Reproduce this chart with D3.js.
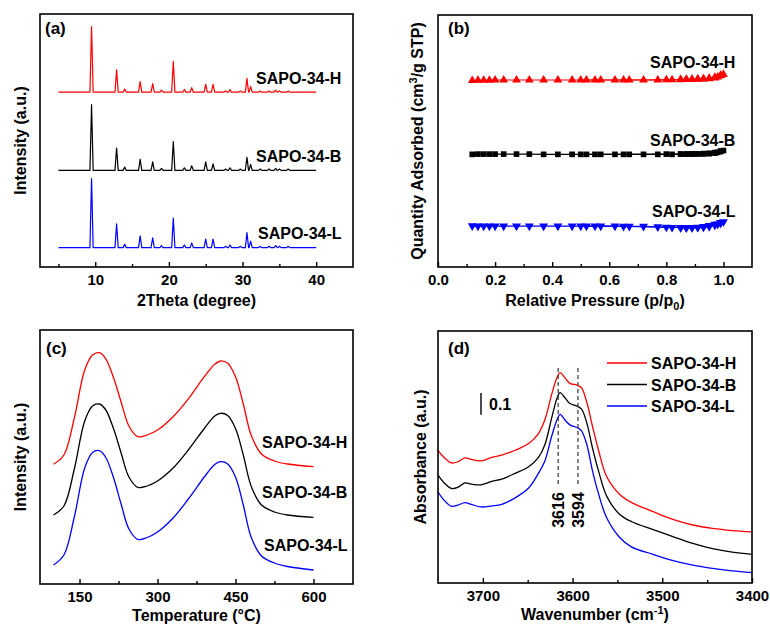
<!DOCTYPE html>
<html>
<head>
<meta charset="utf-8">
<script src="https://cdn.jsdelivr.net/npm/d3@7"></script>
<style>
body { margin: 0; background: #fff; }
</style>
</head>
<body>
<div id="chart"></div>
<script>
/*
Data
*/
const names = ["SAPO-34-H", "SAPO-34-B", "SAPO-34-L"];
const colors = ["#ff0000", "#000000", "#0000ff"];

// (a) XRD: peak positions (2theta) and peak heights per sample, plus stacked baseline
const xrdPeaks = [9.5, 12.9, 14.0, 16.1, 17.8, 19.0, 20.6, 22.1, 23.1, 25.0, 26.0, 27.7, 28.3, 29.7, 30.6, 31.1, 32.4, 33.6, 34.5, 35.0, 36.2];
const xrdH = [100, 34, 5, 16, 13, 3, 47, 4, 7, 12, 12, 2, 4, 2, 21, 9, 2, 2, 3, 2, 2];
const xrdB = [100, 34, 5, 17, 13, 3, 44, 4, 7, 13, 10, 2, 4, 2, 20, 9, 2, 2, 3, 2, 2];
const xrdL = [105, 36, 5, 18, 15, 3, 45, 4, 7, 13, 13, 2, 4, 2, 23, 10, 2, 2, 3, 2, 2];
const xrdBase = [266, 147, 29.5];
const xrdRange = [5, 40];

// (b) N2 isotherms
const pAds = [0.12, 0.14, 0.16, 0.18, 0.20, 0.23, 0.275, 0.32, 0.37, 0.42, 0.47, 0.52, 0.57, 0.62, 0.67, 0.72, 0.77, 0.82, 0.85, 0.87, 0.89, 0.91, 0.93, 0.95, 0.97, 0.98, 0.99, 1.00];
const pDes = [0.99, 0.97, 0.95, 0.93, 0.91, 0.89, 0.87, 0.85, 0.80, 0.65, 0.55, 0.50];
const qAdsH = [74.0, 74.1, 74.1, 74.1, 74.2, 74.2, 74.2, 74.2, 74.2, 74.2, 74.2, 74.2, 74.2, 74.2, 74.2, 74.2, 74.2, 74.3, 74.3, 74.4, 74.4, 74.5, 74.6, 74.7, 75.0, 75.4, 75.9, 76.4];
const qDesH = [76.0, 75.3, 74.9, 74.7, 74.6, 74.5, 74.5, 74.4, 74.3, 74.2, 74.2, 74.2];
const qAdsB = [44.7, 44.8, 44.8, 44.8, 44.8, 44.8, 44.8, 44.8, 44.7, 44.7, 44.7, 44.7, 44.7, 44.7, 44.7, 44.7, 44.7, 44.7, 44.8, 44.8, 44.8, 44.9, 44.9, 45.0, 45.2, 45.5, 45.8, 46.2];
const qDesB = [46.0, 45.4, 45.1, 45.0, 44.9, 44.9, 44.8, 44.8, 44.8, 44.7, 44.7, 44.7];
const qAdsL = [16.3, 16.2, 16.2, 16.2, 16.2, 16.2, 16.2, 16.2, 16.2, 16.2, 16.2, 16.2, 16.2, 16.2, 16.1, 16.1, 15.9, 15.7, 15.6, 15.6, 15.6, 15.7, 15.8, 16.0, 16.6, 17.0, 17.4, 17.9];
const qDesL = [17.6, 16.9, 16.4, 16.0, 15.8, 15.7, 15.6, 15.7, 15.8, 16.1, 16.2, 16.2];

// (c) NH3-TPD
const tpdT = [100, 120, 140, 160, 175, 188, 200, 215, 230, 245, 262, 280, 300, 330, 360, 390, 410, 421, 435, 450, 465, 480, 500, 525, 550, 600];
const tpdH = [119.7, 129, 166, 214, 229, 231.3, 225.7, 207, 182, 158, 147.3, 149, 154, 167.3, 185.7, 207.3, 219.7, 223, 220.7, 207.3, 180, 149, 130, 123, 120, 117.3];
const tpdB = [69, 78, 115, 163, 178, 180, 174.5, 156, 131, 107, 96.7, 98, 103, 116, 134.5, 155.5, 168, 170.7, 168.5, 155.5, 129, 98, 79, 72, 69, 66.7];
const tpdL = [19, 29, 67, 116, 131.5, 133.3, 127, 107, 80, 55, 44.7, 46.5, 52, 66, 85.5, 107, 119.5, 122.3, 120, 107, 79, 47, 28, 21, 17.5, 14];

// (d) FTIR hydroxyl region
const wn = [3750, 3744, 3735, 3728, 3720, 3713, 3702, 3690, 3679, 3664, 3649, 3638, 3631, 3623, 3617, 3614, 3608, 3603, 3595, 3590, 3584, 3578, 3571, 3562, 3548, 3534, 3511, 3489, 3466, 3444, 3422, 3400];
const irH = [0.611, 0.581, 0.553, 0.558, 0.576, 0.569, 0.562, 0.578, 0.589, 0.611, 0.642, 0.688, 0.750, 0.873, 0.949, 0.968, 0.942, 0.919, 0.911, 0.898, 0.830, 0.725, 0.610, 0.490, 0.410, 0.370, 0.330, 0.294, 0.267, 0.251, 0.241, 0.235];
const irB = [0.496, 0.465, 0.435, 0.440, 0.461, 0.455, 0.452, 0.468, 0.478, 0.505, 0.535, 0.578, 0.635, 0.765, 0.855, 0.876, 0.850, 0.826, 0.814, 0.800, 0.735, 0.625, 0.515, 0.400, 0.318, 0.282, 0.247, 0.215, 0.182, 0.158, 0.142, 0.132];
const irL = [0.419, 0.385, 0.353, 0.358, 0.370, 0.362, 0.350, 0.355, 0.362, 0.392, 0.437, 0.505, 0.560, 0.680, 0.755, 0.776, 0.748, 0.728, 0.716, 0.700, 0.635, 0.520, 0.410, 0.300, 0.212, 0.165, 0.133, 0.104, 0.082, 0.067, 0.056, 0.048];
const irMarks = [3616, 3594];
const irBar = [0.875, 0.775];

/*
Layout
*/
const FONT = "'Liberation Sans', Arial, Helvetica, sans-serif";
const width = 770;
const height = 625;
const pa = { x0: 40, x1: 353, y0: 14, y1: 267 };
const pb = { x0: 438, x1: 752, y0: 15, y1: 267 };
const pc = { x0: 40, x1: 353, y0: 330, y1: 584 };
const pd = { x0: 438, x1: 752, y0: 331, y1: 583 };

const svg = d3.select("#chart")
	.append("svg")
	.attr("width", width)
	.attr("height", height)
	.style("font-family", FONT);
svg.append("rect")
	.attr("width", width)
	.attr("height", height)
	.attr("fill", "#fff");

/*
Helpers
*/
function frame(p) {
	svg.append("rect")
		.attr("x", p.x0)
		.attr("y", p.y0)
		.attr("width", p.x1 - p.x0)
		.attr("height", p.y1 - p.y0)
		.attr("fill", "none")
		.attr("stroke", "#000")
		.attr("stroke-width", 1.6);
}

function bottomAxis(p, x, major, minor, fmt) {
	const g = svg.append("g").attr("transform", `translate(0,${p.y1})`);
	g.append("g")
		.call(d3.axisBottom(x).tickValues(major).tickSize(-5).tickPadding(7).tickFormat(fmt))
		.call((a) => a.select(".domain").remove())
		.call((a) => a.selectAll("line").attr("stroke-width", 1.4))
		.call((a) => a.selectAll("text")
			.attr("font-family", FONT)
			.attr("font-size", 15)
			.attr("font-weight", "bold")
			.attr("fill", "#000"));
	g.append("g")
		.call(d3.axisBottom(x).tickValues(minor).tickSize(-3).tickFormat(""))
		.call((a) => a.select(".domain").remove())
		.call((a) => a.selectAll("line").attr("stroke-width", 1.4));
}

function text(x, y, str, size, opts) {
	const t = svg.append("text")
		.attr("x", x)
		.attr("y", y)
		.attr("font-size", size)
		.attr("font-weight", "bold")
		.attr("fill", "#000")
		.text(str);
	if (opts && opts.anchor) t.attr("text-anchor", opts.anchor);
	return t;
}

function yTitle(x, p, parts) {
	const t = svg.append("text")
		.attr("transform", `translate(${x},${(p.y0 + p.y1) / 2}) rotate(-90)`)
		.attr("text-anchor", "middle")
		.attr("font-size", 16)
		.attr("font-weight", "bold");
	parts.forEach((s) => {
		const span = t.append("tspan").text(s.t);
		if (s.sup) span.attr("font-size", 11).attr("dy", -6);
		if (s.back) span.attr("dy", 6);
	});
}

function xTitle(p, y, parts) {
	const t = svg.append("text")
		.attr("x", (p.x0 + p.x1) / 2)
		.attr("y", y)
		.attr("text-anchor", "middle")
		.attr("font-size", 16)
		.attr("font-weight", "bold");
	parts.forEach((s) => {
		const span = t.append("tspan").text(s.t);
		if (s.sup) span.attr("font-size", 11).attr("dy", -6);
		if (s.sub) span.attr("font-size", 11).attr("dy", 4);
		if (s.back) span.attr("dy", s.back);
	});
}

/*
(a) XRD
*/
const xA = d3.scaleLinear().domain([2.5, 45]).range([pa.x0, pa.x1]);
const yA = d3.scaleLinear().domain([0, 385]).range([pa.y1, pa.y0]);
const xrdLine = d3.line().x((d) => xA(d[0])).y((d) => yA(d[1]));
function xrdPoints(heights, base) {
	const pts = [[xrdRange[0], base]];
	xrdPeaks.forEach((p, i) => {
		pts.push([p - 0.22, base], [p, base + heights[i]], [p + 0.22, base]);
	});
	pts.push([xrdRange[1], base]);
	return pts;
}
[xrdH, xrdB, xrdL].forEach((h, i) => {
	svg.append("path")
		.attr("d", xrdLine(xrdPoints(h, xrdBase[i])))
		.attr("fill", "none")
		.attr("stroke", colors[i])
		.attr("stroke-width", 1.2)
		.attr("stroke-linejoin", "round");
});
frame(pa);
bottomAxis(pa, xA, [10, 20, 30, 40], [5, 15, 25, 35], d3.format("d"));
text(45, 34, "(a)", 17);
text(256, 84, names[0], 16);
text(256, 161.5, names[1], 16);
text(258, 239, names[2], 16);
xTitle(pa, 306, [{ t: "2Theta (degree)" }]);
yTitle(26, pa, [{ t: "Intensity (a.u.)" }]);

/*
(b) N2 isotherms
*/
const xB = d3.scaleLinear().domain([0, 1.1]).range([pb.x0, pb.x1]);
const yB = d3.scaleLinear().domain([0, 100]).range([pb.y1, pb.y0]);
const isoLine = d3.line().x((d) => xB(d[0])).y((d) => yB(d[1]));
const isoSets = [[qAdsH, qDesH], [qAdsB, qDesB], [qAdsL, qDesL]];
const symbols = [
	d3.symbol().type(d3.symbolTriangle).size(34),
	d3.symbol().type(d3.symbolSquare).size(32),
	d3.symbol().type(d3.symbolTriangle).size(34)
];
isoSets.forEach((set, i) => {
	const ads = pAds.map((p, j) => [p, set[0][j]]);
	const des = pDes.map((p, j) => [p, set[1][j]]);
	[ads, des].forEach((pts) => {
		svg.append("path")
			.attr("d", isoLine(pts))
			.attr("fill", "none")
			.attr("stroke", colors[i])
			.attr("stroke-width", 1.2);
	});
	svg.append("g")
		.selectAll("path")
		.data(ads.concat(des))
		.enter()
		.append("path")
		.attr("d", symbols[i])
		.attr("transform", (d) => `translate(${xB(d[0])},${yB(d[1])})${i == 2 ? " rotate(180)" : ""}`)
		.attr("fill", colors[i]);
});
frame(pb);
bottomAxis(pb, xB, [0, 0.2, 0.4, 0.6, 0.8, 1.0], [0.1, 0.3, 0.5, 0.7, 0.9], d3.format(".1f"));
text(448, 34, "(b)", 17);
text(650, 68, names[0], 16);
text(650, 145.5, names[1], 16);
text(652, 217, names[2], 16);
xTitle(pb, 306, [{ t: "Relative Pressure (p/p" }, { t: "0", sub: true }, { t: ")", back: -4 }]);
yTitle(423, pb, [{ t: "Quantity Adsorbed (cm" }, { t: "3", sup: true }, { t: "/g STP)", back: true }]);

/*
(c) NH3-TPD
*/
const xC = d3.scaleLinear().domain([74, 676]).range([pc.x0, pc.x1]);
const yC = d3.scaleLinear().domain([0, 254]).range([pc.y1, pc.y0]);
const tpdLine = d3.line()
	.x((d) => xC(d[0]))
	.y((d) => yC(d[1]))
	.curve(d3.curveCatmullRom.alpha(0.5));
[tpdH, tpdB, tpdL].forEach((vals, i) => {
	svg.append("path")
		.attr("d", tpdLine(tpdT.map((t, j) => [t, vals[j]])))
		.attr("fill", "none")
		.attr("stroke", colors[i])
		.attr("stroke-width", 1.3);
});
frame(pc);
bottomAxis(pc, xC, [150, 300, 450, 600], [225, 375, 525], d3.format("d"));
text(46, 354, "(c)", 17);
text(262, 448, names[0], 16);
text(262, 498, names[1], 16);
text(264, 550.5, names[2], 16);
xTitle(pc, 621, [{ t: "Temperature (\u00b0C)" }]);
yTitle(26, pc, [{ t: "Intensity (a.u.)" }]);

/*
(d) FTIR
*/
const xD = d3.scaleLinear().domain([3750, 3400]).range([pd.x0, pd.x1]);
const yD = d3.scaleLinear().domain([0, 1.16]).range([pd.y1, pd.y0]);
const irLine = d3.line()
	.x((d) => xD(d[0]))
	.y((d) => yD(d[1]))
	.curve(d3.curveCatmullRom.alpha(0.5));
[irH, irB, irL].forEach((vals, i) => {
	svg.append("path")
		.attr("d", irLine(wn.map((w, j) => [w, vals[j]])))
		.attr("fill", "none")
		.attr("stroke", colors[i])
		.attr("stroke-width", 1.3);
});
irMarks.forEach((m, i) => {
	svg.append("line")
		.attr("x1", xD(m))
		.attr("x2", xD(m))
		.attr("y1", 368)
		.attr("y2", 486)
		.attr("stroke", "#444")
		.attr("stroke-width", 1.3)
		.attr("stroke-dasharray", "4,3");
	svg.append("text")
		.attr("transform", `translate(${xD(m) + 6},510) rotate(-90)`)
		.attr("text-anchor", "middle")
		.attr("font-size", 16)
		.attr("font-weight", "bold")
		.text(m);
});
// scale bar, 0.1 absorbance
svg.append("line")
	.attr("x1", 481)
	.attr("x2", 481)
	.attr("y1", yD(irBar[0]))
	.attr("y2", yD(irBar[1]))
	.attr("stroke", "#000")
	.attr("stroke-width", 1.4);
text(489, 410, "0.1", 16);
// legend
names.forEach((n, i) => {
	const y = 363 + i * 21.5;
	svg.append("line")
		.attr("x1", 607)
		.attr("x2", 647)
		.attr("y1", y)
		.attr("y2", y)
		.attr("stroke", colors[i])
		.attr("stroke-width", 1.4);
	text(651, y + 6, n, 16);
});
frame(pd);
bottomAxis(pd, xD, [3700, 3600, 3500, 3400], [3650, 3550, 3450], d3.format("d"));
text(448, 354, "(d)", 17);
xTitle(pd, 620, [{ t: "Wavenumber (cm" }, { t: "-1", sup: true }, { t: ")", back: 6 }]);
yTitle(426, pd, [{ t: "Absorbance (a.u.)" }]);
</script>
</body>
</html>
